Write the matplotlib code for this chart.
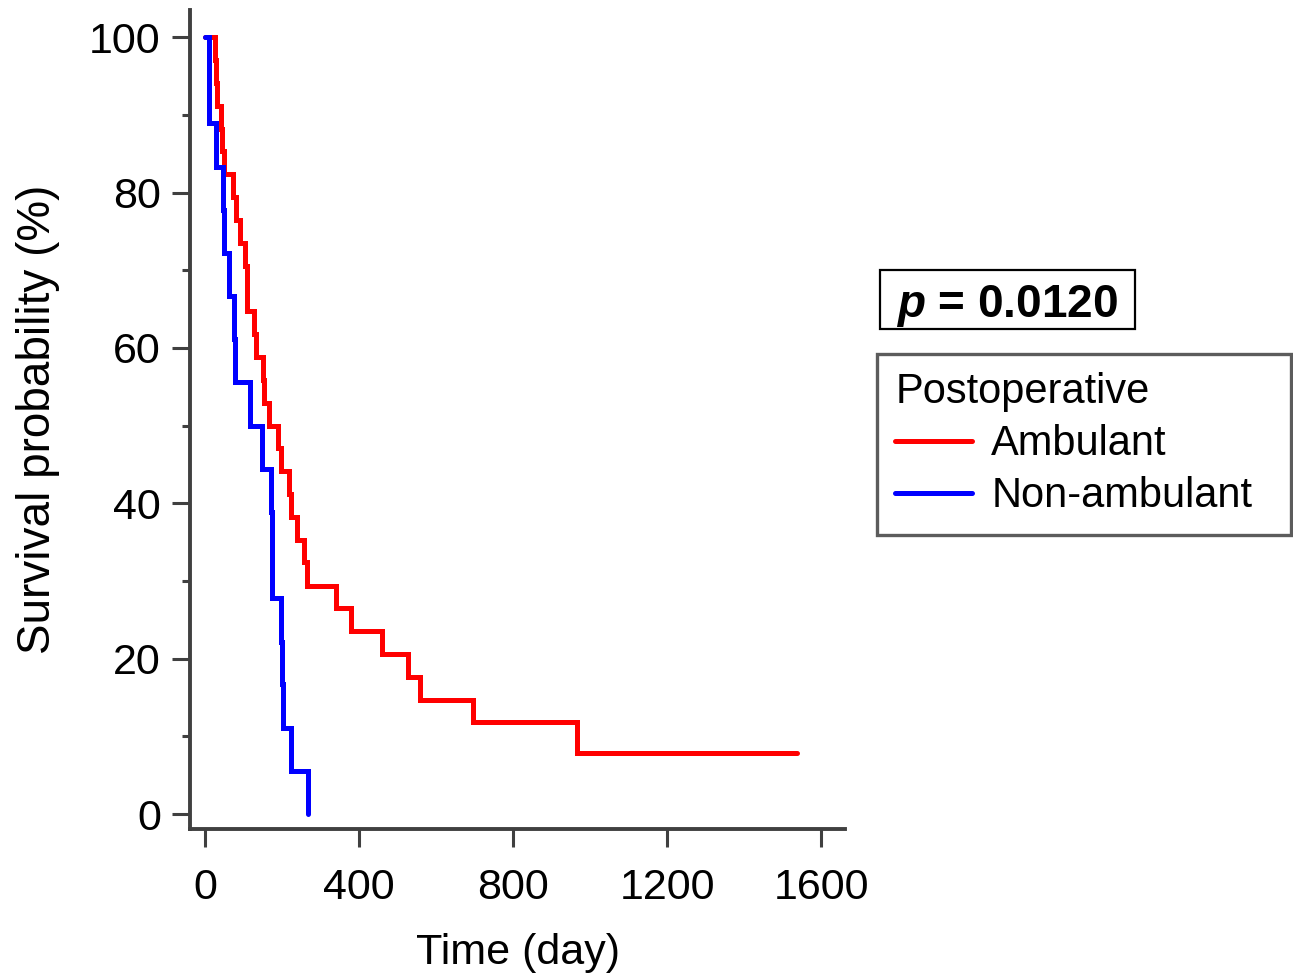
import matplotlib
matplotlib.use("Agg")
import matplotlib.pyplot as plt
from matplotlib.ticker import MultipleLocator
from matplotlib.patches import Rectangle

plt.rcParams['font.family'] = ['Liberation Sans', 'DejaVu Sans']
plt.rcParams['mathtext.fontset'] = 'custom'
plt.rcParams['mathtext.rm'] = 'Liberation Sans:bold'
plt.rcParams['mathtext.bfit'] = 'Liberation Sans:italic:bold'
plt.rcParams['mathtext.it'] = 'Liberation Sans:italic:bold'

# Ambulant (red) Kaplan-Meier steps: time (day) -> survival (%) after event
amb_time = [0, 25, 28, 30, 41, 43, 48, 72, 80, 91, 104, 108, 127, 132, 151, 153,
            165, 190, 198, 219, 222, 238, 257, 264, 340, 380, 460, 528, 558, 697,
            965, 1538]
amb_surv = [100, 97.1, 94.1, 91.2, 88.2, 85.3, 82.4, 79.4, 76.5, 73.5, 70.6, 64.7,
            61.8, 58.8, 55.9, 52.9, 50.0, 47.1, 44.1, 41.2, 38.2, 35.3, 32.4, 29.4,
            26.5, 23.5, 20.6, 17.6, 14.7, 11.8, 7.8, 7.8]

# Non-ambulant (blue)
non_time = [0, 10, 29, 46, 48, 62, 75, 78, 117, 147, 171, 173, 175, 197, 200,
            203, 222, 267]
non_surv = [100, 88.9, 83.3, 77.8, 72.2, 66.7, 61.1, 55.6, 50.0, 44.4, 38.9,
            33.3, 27.8, 22.2, 16.7, 11.1, 5.6, 0]

x_ticks = [0, 400, 800, 1200, 1600]
y_ticks = [0, 20, 40, 60, 80, 100]
legend_title = "Postoperative"
labels = ["Ambulant", "Non-ambulant"]
p_text = r"$\mathbfit{p}$ = 0.0120"

W, H = 1293, 976
fig = plt.figure(figsize=(W/100, H/100), dpi=100)
ax = fig.add_axes([190/W, 1-829/H, (845-190)/W, (829-10)/H])

ax.step(amb_time, amb_surv, where='post', color='#FF0000', lw=3.6,
        solid_capstyle='round', solid_joinstyle='miter', label=labels[0])
ax.step(non_time, non_surv, where='post', color='#0000FF', lw=3.6,
        solid_capstyle='round', solid_joinstyle='miter', label=labels[1])

ax.set_xlim(-39, 1662)
ax.set_ylim(-1.93, 103.5)
ax.set_xticks(x_ticks)
ax.set_yticks(y_ticks)
ax.yaxis.set_minor_locator(MultipleLocator(10))

spine_c = '#404040'
for s in ['top', 'right']:
    ax.spines[s].set_visible(False)
for s in ['left', 'bottom']:
    ax.spines[s].set_linewidth(2.8)
    ax.spines[s].set_color(spine_c)

ax.tick_params(axis='both', which='major', direction='out', length=13, width=2.2,
               color=spine_c, labelsize=31)
ax.tick_params(axis='y', which='major', pad=8)
ax.tick_params(axis='x', which='major', pad=15)
ax.tick_params(axis='y', which='minor', direction='out', length=6, width=2.2,
               color=spine_c)

ax.set_xlabel("Time (day)", fontsize=31, labelpad=18)
ax.set_ylabel("Survival probability (%)", fontsize=33, labelpad=21)

leg = ax.legend(loc='upper left',
                bbox_to_anchor=(877/W, 1-354/H, (1291-877)/W, 0.0),
                bbox_transform=fig.transFigure, borderaxespad=0, mode='expand',
                title=legend_title, fontsize=30, title_fontsize=30,
                alignment='left', frameon=True, fancybox=False,
                handlelength=1.85, handletextpad=0.45, labelspacing=0.29,
                borderpad=0.44)
leg.get_frame().set_edgecolor('#333333')
leg.get_frame().set_linewidth(2.4)
for line in leg.get_lines():
    line.set_linewidth(3.6)

fig.add_artist(Rectangle((880/W, 1-329/H), (1135-880)/W, (329-270)/H,
                         transform=fig.transFigure, fill=False, ec='black',
                         lw=1.6))
fig.text(1007/W, 1-317/H, p_text, fontsize=33, fontweight='bold',
         ha='center', va='baseline')

fig.savefig("out.png", dpi=100)
